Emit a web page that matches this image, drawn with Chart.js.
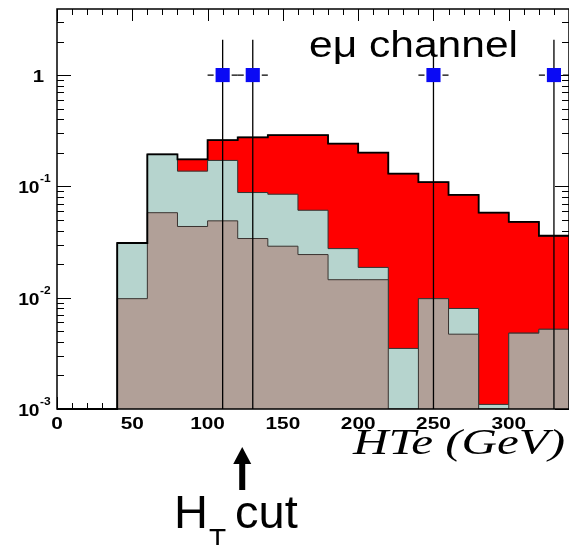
<!DOCTYPE html>
<html lang="en">
<head>
    <meta charset="UTF-8">
    <title>HTe - e&mu; channel</title>
    <script src="https://cdn.jsdelivr.net/npm/chart.js"></script>
    <style>
        body { margin: 0; background: #fff; }
        canvas { display: block; }
    </style>
</head>
<body>
    <canvas id="htChart" width="569" height="545"></canvas>

    <script>
        // Histogram binning (GeV)
        const binWidth = 20;
        const xMin = 0;
        const xMax = 340;

        // Stacked backgrounds, one value per 20 GeV bin starting at 0
        const totalBkg = [0, 0, 0.031, 0.194, 0.175, 0.26, 0.276, 0.288, 0.288, 0.242, 0.201, 0.130, 0.109, 0.084, 0.058, 0.048, 0.036];
        const midBkg   = [0, 0, 0.031, 0.194, 0.137, 0.171, 0.088, 0.085, 0.061, 0.0276, 0.0187, 0.0035, 0.0098, 0.0080, 0.0011, 0.0048, 0.0052];
        const lowBkg   = [0, 0, 0.0098, 0.058, 0.0436, 0.049, 0.034, 0.029, 0.0244, 0.0145, 0.0145, 0, 0.0098, 0.0047, 0, 0.0048, 0.0052];

        // Data events
        const dataX    = [110, 130, 250, 330];
        const dataY    = [1, 1, 1, 1];
        const dataErrX = [10, 10, 10, 10];
        const dataUp   = [2.07, 2.07, 2.07, 2.07];

        // Axis ticks
        const xMajorTicks = [0, 50, 100, 150, 200, 250, 300];
        const yDecades = [-3, -2, -1, 0];
        const yMin = 1e-3;
        const yMax = 3.92;

        const htCut = 123;

        const FONT = '"Liberation Sans", Arial, sans-serif';

        function histPoints(vals) {
            const pts = vals.map((v, i) => ({ x: xMin + i * binWidth, y: Math.max(v, yMin) }));
            pts.push({ x: xMin + vals.length * binWidth, y: Math.max(vals[vals.length - 1], yMin) });
            return pts;
        }

        function stretchText(ctx, text, x, y, font, sx, align) {
            ctx.save();
            ctx.font = font;
            ctx.textAlign = 'left';
            ctx.textBaseline = 'alphabetic';
            const w = ctx.measureText(text).width * sx;
            let x0 = x;
            if (align === 'center') x0 = x - w / 2;
            if (align === 'right') x0 = x - w;
            ctx.translate(x0, y);
            ctx.scale(sx, 1);
            ctx.fillText(text, 0, 0);
            ctx.restore();
        }

        function fitText(ctx, text, x, y, font, width) {
            ctx.save();
            ctx.font = font;
            const sx = width / ctx.measureText(text).width;
            ctx.restore();
            stretchText(ctx, text, x, y, font, sx, 'left');
        }

        const decor = {
            id: 'decor',
            beforeDatasetsDraw(chart) {
                const { ctx, chartArea: a, scales: { x, y } } = chart;
                ctx.save();
                ctx.strokeStyle = '#000';
                ctx.lineWidth = 1;
                // x ticks, bottom and top
                for (let v = xMin; v <= xMax; v += 10) {
                    const px = Math.round(x.getPixelForValue(v)) + 0.5;
                    const len = v % 50 === 0 ? 12 : 6;
                    ctx.beginPath();
                    ctx.moveTo(px, a.bottom); ctx.lineTo(px, a.bottom - len);
                    ctx.moveTo(px, a.top); ctx.lineTo(px, a.top + len);
                    ctx.stroke();
                }
                // y ticks, left and right
                yDecades.forEach(d => {
                    for (let k = 1; k <= 9; k++) {
                        const v = k * Math.pow(10, d);
                        if (v > yMax) break;
                        const py = Math.round(y.getPixelForValue(v)) + 0.5;
                        const len = k === 1 ? 14 : 7;
                        ctx.beginPath();
                        ctx.moveTo(a.left, py); ctx.lineTo(a.left + len, py);
                        ctx.moveTo(a.right, py); ctx.lineTo(a.right - len, py);
                        ctx.stroke();
                    }
                });
                ctx.restore();
            },
            beforeDatasetDraw(chart, args) {
                if (chart.data.datasets[args.index].label !== 'Data') return;
                const { ctx, scales: { x, y } } = chart;
                ctx.save();
                ctx.strokeStyle = '#000';
                ctx.lineWidth = 1.3;
                dataX.forEach((dx, i) => {
                    const px = x.getPixelForValue(dx);
                    const py = y.getPixelForValue(dataY[i]);
                    const xl = x.getPixelForValue(dx - dataErrX[i]);
                    const xr = x.getPixelForValue(dx + dataErrX[i]);
                    ctx.beginPath();
                    ctx.moveTo(px, y.getPixelForValue(dataUp[i]));
                    ctx.lineTo(px, y.getPixelForValue(yMin));
                    ctx.moveTo(xl, py); ctx.lineTo(px - 9, py);
                    ctx.moveTo(px + 9, py); ctx.lineTo(xr, py);
                    ctx.stroke();
                });
                ctx.restore();
            },
            afterDraw(chart) {
                const { ctx, chartArea: a, scales: { x, y } } = chart;
                ctx.save();
                // frame
                ctx.strokeStyle = '#000';
                ctx.lineWidth = 1.5;
                ctx.strokeRect(a.left, a.top, a.right - a.left, a.bottom - a.top);

                ctx.fillStyle = '#000';
                // x tick labels
                xMajorTicks.forEach(v => {
                    stretchText(ctx, String(v), x.getPixelForValue(v), 429, 'bold 16px ' + FONT, 1.3, 'center');
                });
                // y tick labels as powers of ten
                yDecades.forEach(d => {
                    const py = y.getPixelForValue(Math.pow(10, d));
                    if (d === 0) {
                        stretchText(ctx, '1', 44, py + 7, 'bold 17px ' + FONT, 1.2, 'right');
                    } else {
                        stretchText(ctx, '10', 39.5, py + 7, 'bold 16px ' + FONT, 1.2, 'right');
                        stretchText(ctx, String(d), 40, py - 4, 'bold 10px ' + FONT, 1.2, 'left');
                    }
                });

                // channel label
                fitText(ctx, 'eμ channel', 309, 57, '36px ' + FONT, 209);
                // axis title
                fitText(ctx, 'HTe (GeV)', 353, 454, 'italic 36px "Liberation Serif", "Times New Roman", serif', 212);

                // cut arrow
                const ax = x.getPixelForValue(htCut);
                ctx.fillRect(ax - 3, 461, 6, 29);
                ctx.beginPath();
                ctx.moveTo(ax, 447);
                ctx.lineTo(ax + 9, 464);
                ctx.lineTo(ax - 9, 464);
                ctx.closePath();
                ctx.fill();

                // cut label
                ctx.font = '47px ' + FONT;
                ctx.textBaseline = 'alphabetic';
                ctx.textAlign = 'left';
                ctx.fillText('H', 174, 528);
                ctx.font = '28px ' + FONT;
                ctx.fillText('T', 209, 548);
                ctx.font = '47px ' + FONT;
                ctx.fillText('cut', 235, 528);
                ctx.restore();
            }
        };

        new Chart(document.getElementById('htChart'), {
            type: 'line',
            data: {
                datasets: [
                    {
                        label: 'Data',
                        type: 'scatter',
                        data: dataX.map((v, i) => ({ x: v, y: dataY[i] })),
                        pointStyle: 'rect',
                        pointRadius: 10,
                        pointBackgroundColor: '#0a0af5',
                        pointBorderWidth: 0,
                        showLine: false,
                        order: 0
                    },
                    {
                        label: 'Outline',
                        data: histPoints(totalBkg),
                        stepped: 'before',
                        borderColor: '#000',
                        borderWidth: 1.8,
                        fill: false,
                        pointRadius: 0,
                        clip: false,
                        order: 1
                    },
                    {
                        label: 'Low',
                        data: histPoints(lowBkg),
                        stepped: 'before',
                        borderColor: '#3a3330',
                        borderWidth: 1,
                        backgroundColor: '#b1a098',
                        fill: 'start',
                        pointRadius: 0,
                        order: 2
                    },
                    {
                        label: 'Mid',
                        data: histPoints(midBkg),
                        stepped: 'before',
                        borderColor: '#2f3533',
                        borderWidth: 1,
                        backgroundColor: '#b6d4ce',
                        fill: 'start',
                        pointRadius: 0,
                        order: 3
                    },
                    {
                        label: 'Total',
                        data: histPoints(totalBkg),
                        stepped: 'before',
                        borderColor: '#000',
                        borderWidth: 1,
                        backgroundColor: '#ff0000',
                        fill: 'start',
                        pointRadius: 0,
                        order: 4
                    }
                ]
            },
            options: {
                responsive: false,
                animation: false,
                layout: { autoPadding: false, padding: { top: 9, right: 0, bottom: 0, left: 0 } },
                plugins: {
                    legend: { display: false },
                    tooltip: { enabled: false }
                },
                scales: {
                    x: {
                        type: 'linear',
                        min: xMin,
                        max: xMax,
                        grid: { display: false },
                        border: { display: false },
                        ticks: { display: false },
                        afterFit(s) { s.height = 136; }
                    },
                    y: {
                        type: 'logarithmic',
                        min: yMin,
                        max: yMax,
                        grid: { display: false },
                        border: { display: false },
                        ticks: { display: false },
                        afterFit(s) { s.width = 57; }
                    }
                }
            },
            plugins: [decor]
        });
    </script>
</body>
</html>
